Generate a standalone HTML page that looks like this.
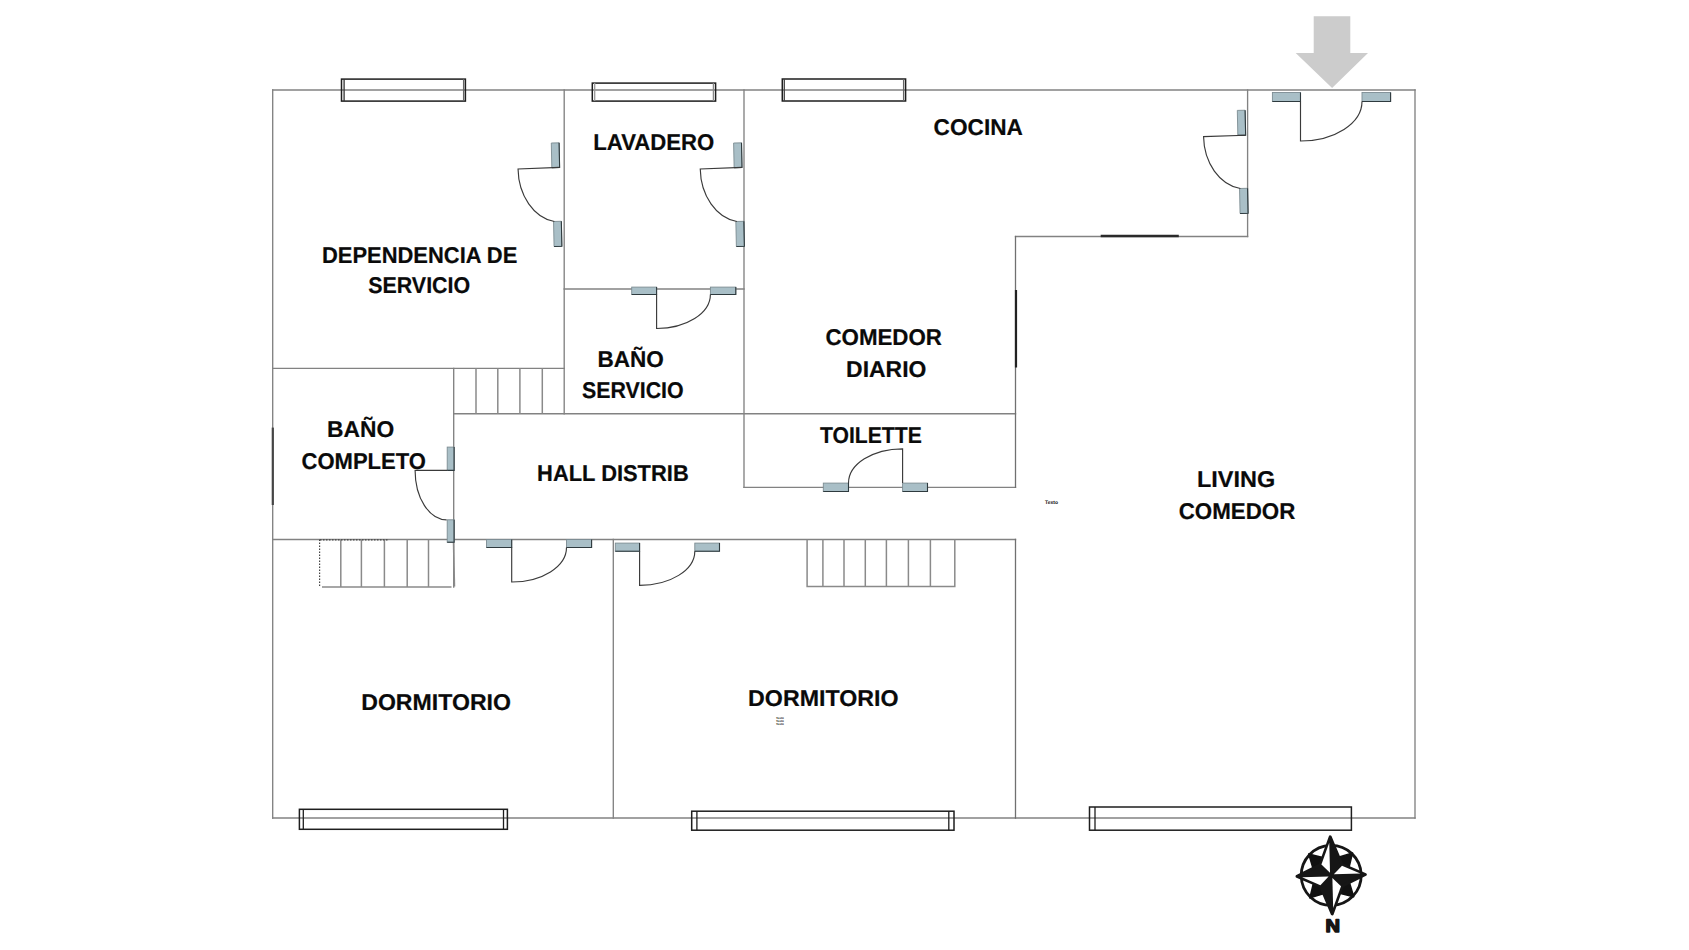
<!DOCTYPE html>
<html><head><meta charset="utf-8"><title>Plano</title>
<style>
html,body{margin:0;padding:0;background:#fff;}
body{width:1689px;height:950px;overflow:hidden;}
svg{display:block;}
text{font-family:"Liberation Sans",sans-serif;font-weight:bold;fill:#0a0a0a;stroke:#0a0a0a;stroke-width:0.2px;text-rendering:geometricPrecision;}
</style></head>
<body>
<svg width="1689" height="950" viewBox="0 0 1689 950">
<rect x="0" y="0" width="1689" height="950" fill="#ffffff"/>
<line x1="272.7" y1="90" x2="1415" y2="90" stroke="#828282" stroke-width="1.35" stroke-linecap="square"/>
<line x1="272.7" y1="90" x2="272.7" y2="818" stroke="#828282" stroke-width="1.35" stroke-linecap="square"/>
<line x1="272.7" y1="818" x2="1415" y2="818" stroke="#828282" stroke-width="1.35" stroke-linecap="square"/>
<line x1="1415" y1="90" x2="1415" y2="818" stroke="#828282" stroke-width="1.35" stroke-linecap="square"/>
<line x1="564.2" y1="90" x2="564.2" y2="413.7" stroke="#828282" stroke-width="1.35" stroke-linecap="square"/>
<line x1="744" y1="90" x2="744" y2="487.3" stroke="#828282" stroke-width="1.35" stroke-linecap="square"/>
<line x1="272.7" y1="368.3" x2="564.2" y2="368.3" stroke="#828282" stroke-width="1.35" stroke-linecap="square"/>
<line x1="564.2" y1="289" x2="744" y2="289" stroke="#828282" stroke-width="1.35" stroke-linecap="square"/>
<line x1="453.7" y1="368.3" x2="453.7" y2="587" stroke="#828282" stroke-width="1.35" stroke-linecap="square"/>
<line x1="453.7" y1="413.7" x2="1015.5" y2="413.7" stroke="#828282" stroke-width="1.35" stroke-linecap="square"/>
<line x1="744" y1="487.3" x2="1015.5" y2="487.3" stroke="#828282" stroke-width="1.35" stroke-linecap="square"/>
<line x1="1015.5" y1="236.5" x2="1247.6" y2="236.5" stroke="#828282" stroke-width="1.35" stroke-linecap="square"/>
<line x1="1247.6" y1="90" x2="1247.6" y2="236.5" stroke="#828282" stroke-width="1.35" stroke-linecap="square"/>
<line x1="272.7" y1="539.5" x2="1015.5" y2="539.5" stroke="#828282" stroke-width="1.35" stroke-linecap="square"/>
<line x1="613.3" y1="539.5" x2="613.3" y2="818" stroke="#828282" stroke-width="1.35" stroke-linecap="square"/>
<line x1="1015.5" y1="236.5" x2="1015.5" y2="487.3" stroke="#707070" stroke-width="1.3" stroke-linecap="square"/>
<line x1="1015.5" y1="539.5" x2="1015.5" y2="818" stroke="#707070" stroke-width="1.3" stroke-linecap="square"/>
<line x1="272.8" y1="427.6" x2="272.8" y2="505" stroke="#454545" stroke-width="2.2" />
<line x1="1016" y1="290" x2="1016" y2="367.5" stroke="#222" stroke-width="2.2" />
<line x1="1100.7" y1="236" x2="1178.8" y2="236" stroke="#2a2a2a" stroke-width="2.4" />
<line x1="476" y1="368.3" x2="476" y2="413.7" stroke="#8a8a8a" stroke-width="1.5" />
<line x1="497.8" y1="368.3" x2="497.8" y2="413.7" stroke="#8a8a8a" stroke-width="1.5" />
<line x1="519.9" y1="368.3" x2="519.9" y2="413.7" stroke="#8a8a8a" stroke-width="1.5" />
<line x1="542.3" y1="368.3" x2="542.3" y2="413.7" stroke="#8a8a8a" stroke-width="1.5" />
<line x1="322" y1="586.9" x2="451.5" y2="586.9" stroke="#8a8a8a" stroke-width="1.5" />
<line x1="340.8" y1="539.5" x2="340.8" y2="586.9" stroke="#8a8a8a" stroke-width="1.5" />
<line x1="361.4" y1="539.5" x2="361.4" y2="586.9" stroke="#8a8a8a" stroke-width="1.5" />
<line x1="384.4" y1="539.5" x2="384.4" y2="586.9" stroke="#8a8a8a" stroke-width="1.5" />
<line x1="407.2" y1="539.5" x2="407.2" y2="586.9" stroke="#8a8a8a" stroke-width="1.5" />
<line x1="428.5" y1="539.5" x2="428.5" y2="586.9" stroke="#8a8a8a" stroke-width="1.5" />
<line x1="319.6" y1="539.5" x2="319.6" y2="586" stroke="#444" stroke-width="1.2" stroke-dasharray="1.5 1.5"/>
<line x1="320" y1="539.8" x2="389" y2="539.8" stroke="#444" stroke-width="1.2" stroke-dasharray="1.5 1.5"/>
<line x1="453.5" y1="542.6" x2="454.5" y2="586.6" stroke="#8a8a8a" stroke-width="1.5" />
<polyline points="807.1,539.5 807.1,586.4 954.8,586.4 954.8,539.5" fill="none" stroke="#8a8a8a" stroke-width="1.5"/>
<line x1="822.9" y1="539.5" x2="822.9" y2="586.4" stroke="#8a8a8a" stroke-width="1.5" />
<line x1="844" y1="539.5" x2="844" y2="586.4" stroke="#8a8a8a" stroke-width="1.5" />
<line x1="865.3" y1="539.5" x2="865.3" y2="586.4" stroke="#8a8a8a" stroke-width="1.5" />
<line x1="886.4" y1="539.5" x2="886.4" y2="586.4" stroke="#8a8a8a" stroke-width="1.5" />
<line x1="908.4" y1="539.5" x2="908.4" y2="586.4" stroke="#8a8a8a" stroke-width="1.5" />
<line x1="930.4" y1="539.5" x2="930.4" y2="586.4" stroke="#8a8a8a" stroke-width="1.5" />
<rect x="341.5" y="79.1" width="123.89999999999998" height="22.0" fill="none" stroke="#1e1e1e" stroke-width="1.5"/>
<line x1="344.1" y1="79.1" x2="344.1" y2="101.1" stroke="#333" stroke-width="1.3" />
<line x1="463.59999999999997" y1="79.1" x2="463.59999999999997" y2="101.1" stroke="#666" stroke-width="1.3" />
<rect x="592.3" y="83.1" width="123.30000000000007" height="18.0" fill="none" stroke="#1e1e1e" stroke-width="1.5"/>
<line x1="594.6999999999999" y1="83.1" x2="594.6999999999999" y2="101.1" stroke="#999" stroke-width="1.3" />
<line x1="713.4" y1="83.1" x2="713.4" y2="101.1" stroke="#888" stroke-width="1.3" />
<rect x="782.3" y="79" width="123.30000000000007" height="22" fill="none" stroke="#1e1e1e" stroke-width="1.5"/>
<line x1="784.3" y1="79" x2="784.3" y2="101" stroke="#444" stroke-width="1.3" />
<line x1="903.6" y1="79" x2="903.6" y2="101" stroke="#666" stroke-width="1.3" />
<rect x="299.4" y="809.3" width="208.0" height="20.0" fill="none" stroke="#1e1e1e" stroke-width="1.5"/>
<line x1="303.29999999999995" y1="809.3" x2="303.29999999999995" y2="829.3" stroke="#1e1e1e" stroke-width="1.3" />
<line x1="503.5" y1="809.3" x2="503.5" y2="829.3" stroke="#1e1e1e" stroke-width="1.3" />
<rect x="691.7" y="811.2" width="262.29999999999995" height="19.0" fill="none" stroke="#1e1e1e" stroke-width="1.5"/>
<line x1="696.9000000000001" y1="811.2" x2="696.9000000000001" y2="830.2" stroke="#1e1e1e" stroke-width="1.3" />
<line x1="948.8" y1="811.2" x2="948.8" y2="830.2" stroke="#1e1e1e" stroke-width="1.3" />
<rect x="1089.5" y="807" width="261.9000000000001" height="23.200000000000045" fill="none" stroke="#1e1e1e" stroke-width="1.5"/>
<line x1="1095.0" y1="807" x2="1095.0" y2="830.2" stroke="#1e1e1e" stroke-width="1.3" />
<rect x="1272.4" y="92.5" width="28.09999999999991" height="9.0" fill="#a9bfc7" stroke="#7c8c92" stroke-width="0.9"/>
<polyline points="1272.4,101.5 1300.5,101.5 1300.5,92.5" fill="none" stroke="#2e3a3e" stroke-width="1.1"/>
<rect x="1362" y="92.5" width="28.59999999999991" height="9.0" fill="#a9bfc7" stroke="#7c8c92" stroke-width="0.9"/>
<polyline points="1362,101.5 1390.6,101.5 1390.6,92.5" fill="none" stroke="#2e3a3e" stroke-width="1.1"/>
<path d="M1300.5,101.5 L1300.5,141 A61.5,39.5 0 0 0 1362,101.5" fill="none" stroke="#3a3a3a" stroke-width="1.15"/>
<rect x="486.5" y="539.5" width="25.19999999999999" height="8.0" fill="#a9bfc7" stroke="#7c8c92" stroke-width="0.9"/>
<polyline points="486.5,547.5 511.7,547.5 511.7,539.5" fill="none" stroke="#2e3a3e" stroke-width="1.1"/>
<rect x="566.5" y="539.5" width="25.100000000000023" height="8.0" fill="#a9bfc7" stroke="#7c8c92" stroke-width="0.9"/>
<polyline points="566.5,547.5 591.6,547.5 591.6,539.5" fill="none" stroke="#2e3a3e" stroke-width="1.1"/>
<path d="M511.7,547.5 L511.7,582 A54.8,34.5 0 0 0 566.5,547.5" fill="none" stroke="#3a3a3a" stroke-width="1.15"/>
<rect x="615.3" y="543.1" width="24.300000000000068" height="8.100000000000023" fill="#a9bfc7" stroke="#7c8c92" stroke-width="0.9"/>
<polyline points="615.3,551.2 639.6,551.2 639.6,543.1" fill="none" stroke="#2e3a3e" stroke-width="1.1"/>
<rect x="694.8" y="543.1" width="24.700000000000045" height="8.100000000000023" fill="#a9bfc7" stroke="#7c8c92" stroke-width="0.9"/>
<polyline points="694.8,551.2 719.5,551.2 719.5,543.1" fill="none" stroke="#2e3a3e" stroke-width="1.1"/>
<path d="M639.6,551.2 L639.6,585.4 A55.2,34.2 0 0 0 694.8,551.2" fill="none" stroke="#3a3a3a" stroke-width="1.15"/>
<rect x="631.7" y="287.1" width="24.899999999999977" height="7.399999999999977" fill="#a9bfc7" stroke="#7c8c92" stroke-width="0.9"/>
<polyline points="631.7,294.5 656.6,294.5 656.6,287.1" fill="none" stroke="#2e3a3e" stroke-width="1.1"/>
<rect x="710.4" y="287.1" width="25.399999999999977" height="7.399999999999977" fill="#a9bfc7" stroke="#7c8c92" stroke-width="0.9"/>
<polyline points="710.4,294.5 735.8,294.5 735.8,287.1" fill="none" stroke="#2e3a3e" stroke-width="1.1"/>
<path d="M656.6,294.5 L656.6,328.5 A53.8,34 0 0 0 710.4,294.5" fill="none" stroke="#3a3a3a" stroke-width="1.15"/>
<rect x="823.3" y="483.1" width="25.200000000000045" height="8.399999999999977" fill="#a9bfc7" stroke="#7c8c92" stroke-width="0.9"/>
<polyline points="823.3,491.5 848.5,491.5 848.5,483.1" fill="none" stroke="#2e3a3e" stroke-width="1.1"/>
<rect x="902.6" y="483.1" width="24.899999999999977" height="8.399999999999977" fill="#a9bfc7" stroke="#7c8c92" stroke-width="0.9"/>
<polyline points="902.6,491.5 927.5,491.5 927.5,483.1" fill="none" stroke="#2e3a3e" stroke-width="1.1"/>
<path d="M902.6,483.1 L902.6,448.8 A54.1,34.3 0 0 0 848.5,483.1" fill="none" stroke="#3a3a3a" stroke-width="1.15"/>
<rect x="447.2" y="447.1" width="6.900000000000034" height="23.299999999999955" fill="#a9bfc7" stroke="#7c8c92" stroke-width="0.9"/>
<polyline points="447.2,470.4 454.1,470.4 454.1,447.1" fill="none" stroke="#2e3a3e" stroke-width="1.1"/>
<rect x="447.2" y="519.8" width="6.900000000000034" height="22.40000000000009" fill="#a9bfc7" stroke="#7c8c92" stroke-width="0.9"/>
<polyline points="447.2,542.2 454.1,542.2 454.1,519.8" fill="none" stroke="#2e3a3e" stroke-width="1.1"/>
<path d="M447.2,470.4 L415.1,470.4 A31.5,49.4 0 0 0 446.6,519.8" fill="none" stroke="#3a3a3a" stroke-width="1.15"/>
<g transform="translate(0.8 0) rotate(-1.2 556 195)">
<rect x="551.6" y="142.9" width="7.7999999999999545" height="24.599999999999994" fill="#a9bfc7" stroke="#7c8c92" stroke-width="0.9"/>
<polyline points="551.6,167.5 559.4,167.5 559.4,142.9" fill="none" stroke="#2e3a3e" stroke-width="1.1"/>
<rect x="552.2" y="221.4" width="7.7999999999999545" height="25.0" fill="#a9bfc7" stroke="#7c8c92" stroke-width="0.9"/>
<polyline points="552.2,246.4 560,246.4 560,221.4" fill="none" stroke="#2e3a3e" stroke-width="1.1"/>
<path d="M559.4,167.5 L517.8,168.2 A41.5,53.5 0 0 0 553,221.4" fill="none" stroke="#3a3a3a" stroke-width="1.15"/>
</g>
<g transform="translate(0.8 0) rotate(-1.2 739 195)">
<rect x="733.9" y="142.9" width="7.899999999999977" height="24.599999999999994" fill="#a9bfc7" stroke="#7c8c92" stroke-width="0.9"/>
<polyline points="733.9,167.5 741.8,167.5 741.8,142.9" fill="none" stroke="#2e3a3e" stroke-width="1.1"/>
<rect x="734.5" y="221.4" width="8.0" height="25.0" fill="#a9bfc7" stroke="#7c8c92" stroke-width="0.9"/>
<polyline points="734.5,246.4 742.5,246.4 742.5,221.4" fill="none" stroke="#2e3a3e" stroke-width="1.1"/>
<path d="M741.8,167.5 L700,168.2 A41.8,53.5 0 0 0 735.5,221.4" fill="none" stroke="#3a3a3a" stroke-width="1.15"/>
</g>
<g transform="translate(0.8 0) rotate(-1.2 1242 162)">
<rect x="1237.6" y="110.3" width="7.800000000000182" height="25.000000000000014" fill="#a9bfc7" stroke="#7c8c92" stroke-width="0.9"/>
<polyline points="1237.6,135.3 1245.4,135.3 1245.4,110.3" fill="none" stroke="#2e3a3e" stroke-width="1.1"/>
<rect x="1238.2" y="188.4" width="8.0" height="25.0" fill="#a9bfc7" stroke="#7c8c92" stroke-width="0.9"/>
<polyline points="1238.2,213.4 1246.2,213.4 1246.2,188.4" fill="none" stroke="#2e3a3e" stroke-width="1.1"/>
<path d="M1245.4,135.3 L1203.3,135.8 A42,52.8 0 0 0 1239,188.4" fill="none" stroke="#3a3a3a" stroke-width="1.15"/>
</g>
<polygon points="1313.7,16.2 1350.3,16.2 1350.3,53 1368,53 1332.1,88.1 1295.7,53 1313.7,53" fill="#cccccc"/>
<text x="593.30" y="149.60" font-size="22.8" textLength="121.00" lengthAdjust="spacingAndGlyphs">LAVADERO</text>
<text x="933.60" y="135.40" font-size="22.8" textLength="89.30" lengthAdjust="spacingAndGlyphs">COCINA</text>
<text x="322.00" y="263.00" font-size="22.8" textLength="195.30" lengthAdjust="spacingAndGlyphs">DEPENDENCIA DE</text>
<text x="368.20" y="293.40" font-size="22.8" textLength="102.00" lengthAdjust="spacingAndGlyphs">SERVICIO</text>
<text x="825.40" y="344.60" font-size="22.8" textLength="116.60" lengthAdjust="spacingAndGlyphs">COMEDOR</text>
<text x="846.10" y="376.60" font-size="22.8" textLength="80.30" lengthAdjust="spacingAndGlyphs">DIARIO</text>
<text x="597.50" y="367.20" font-size="22.8" textLength="66.40" lengthAdjust="spacingAndGlyphs">BAÑO</text>
<text x="581.90" y="398.40" font-size="22.8" textLength="101.80" lengthAdjust="spacingAndGlyphs">SERVICIO</text>
<text x="327.00" y="436.60" font-size="22.8" textLength="67.20" lengthAdjust="spacingAndGlyphs">BAÑO</text>
<text x="301.50" y="468.90" font-size="22.8" textLength="124.40" lengthAdjust="spacingAndGlyphs">COMPLETO</text>
<text x="820.00" y="442.60" font-size="22.8" textLength="101.80" lengthAdjust="spacingAndGlyphs">TOILETTE</text>
<text x="537.10" y="481.40" font-size="22.8" textLength="151.60" lengthAdjust="spacingAndGlyphs">HALL DISTRIB</text>
<text x="1197.00" y="486.60" font-size="22.8" textLength="78.20" lengthAdjust="spacingAndGlyphs">LIVING</text>
<text x="1178.70" y="518.60" font-size="22.8" textLength="116.60" lengthAdjust="spacingAndGlyphs">COMEDOR</text>
<text x="361.20" y="709.80" font-size="22.8" textLength="149.80" lengthAdjust="spacingAndGlyphs">DORMITORIO</text>
<text x="748.10" y="705.60" font-size="22.8" textLength="150.40" lengthAdjust="spacingAndGlyphs">DORMITORIO</text>
<text x="1045" y="504" font-size="5" fill="#999" font-weight="normal" style="stroke:none">Texto</text>
<text x="776" y="718.5" font-size="3" fill="#666" font-weight="normal" style="stroke:none">Texto</text>
<text x="776" y="721.5" font-size="3" fill="#666" font-weight="normal" style="stroke:none">Texto</text>
<text x="776" y="724.5" font-size="3" fill="#666" font-weight="normal" style="stroke:none">Texto</text>
<g transform="translate(1331.2 875.4) rotate(-1.5)"><circle cx="0" cy="0" r="30" fill="none" stroke="#161616" stroke-width="2.8"/><polygon points="-21.920310216782973,-21.920310216782973 0,-16 21.920310216782973,-21.920310216782973 16,0 21.920310216782973,21.920310216782973 0,16 -21.920310216782973,21.920310216782973 -16,0" fill="#111" stroke="#111" stroke-width="1.5" stroke-linejoin="round"/><polygon points="0,-38.5 10.8,-10.8 34.2,0 10.8,10.8 0,38.5 -10.8,10.8 -34.2,0 -10.8,-10.8" fill="#161616" stroke="#161616" stroke-width="3" stroke-linejoin="round"/><polygon points="-1.10,-32.65 -9.51,-11.07 -1.10,-2.66" fill="#fff"/><polygon points="29.19,-1.10 11.04,-9.48 2.66,-1.10" fill="#fff"/><polygon points="1.10,32.65 9.51,11.07 1.10,2.66" fill="#fff"/><polygon points="-29.19,1.10 -11.04,9.48 -2.66,1.10" fill="#fff"/></g>
<text x="1325.5" y="932" font-size="18" textLength="14.5" lengthAdjust="spacingAndGlyphs" style="fill:#161616;stroke:#161616;stroke-width:1.5px;stroke-linejoin:round">N</text>
</svg>
</body></html>
